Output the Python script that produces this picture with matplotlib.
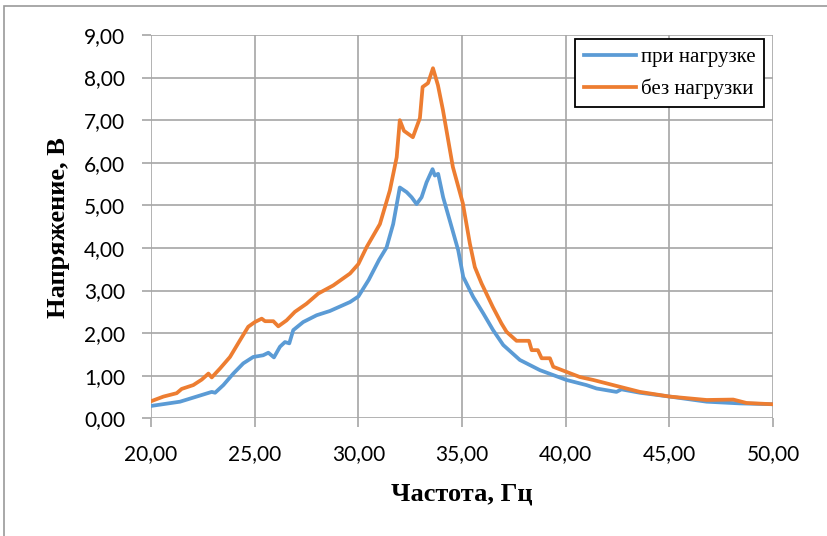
import matplotlib.pyplot as plt
from matplotlib.patches import Rectangle

# при нагрузке
f_load = [20.0, 21.4, 22.2, 22.93, 23.09, 23.49, 23.97, 24.45, 24.93, 25.41, 25.66,
          25.93, 26.22, 26.46, 26.67, 26.86, 27.34, 27.99, 28.63, 29.6, 30.0, 30.5,
          31.0, 31.36, 31.68, 32.0, 32.33, 32.57, 32.81, 33.05, 33.29, 33.58, 33.69,
          33.85, 34.09, 34.5, 34.82, 35.06, 35.54, 36.03, 36.5, 36.99, 37.79, 38.76,
          40.04, 41.0, 41.49, 42.45, 42.69, 43.58, 45.02, 46.8, 48.4, 50.0]
u_load = [0.29, 0.39, 0.51, 0.62, 0.60, 0.78, 1.05, 1.29, 1.44, 1.48, 1.54,
          1.43, 1.68, 1.79, 1.76, 2.07, 2.26, 2.42, 2.52, 2.73, 2.86, 3.25,
          3.72, 4.01, 4.56, 5.42, 5.31, 5.19, 5.03, 5.19, 5.54, 5.85, 5.70,
          5.74, 5.19, 4.49, 3.94, 3.32, 2.85, 2.46, 2.07, 1.72, 1.37, 1.13,
          0.90, 0.78, 0.70, 0.62, 0.68, 0.60, 0.51, 0.39, 0.35, 0.33]

# без нагрузки
f_free = [20.0, 20.6, 21.24, 21.48, 22.04, 22.45, 22.77, 22.93, 23.33, 23.81, 24.29,
          24.69, 25.01, 25.34, 25.5, 25.9, 26.14, 26.54, 26.94, 27.5, 28.07, 28.79,
          29.6, 30.0, 30.4, 31.04, 31.52, 31.85, 32.0, 32.2, 32.63, 32.97, 33.1,
          33.36, 33.6, 33.84, 34.08, 34.56, 35.04, 35.38, 35.62, 35.94, 36.49, 36.9,
          37.15, 37.63, 38.23, 38.36, 38.66, 38.84, 39.24, 39.4, 40.04, 40.68, 41.33,
          42.29, 43.58, 45.02, 46.8, 48.08, 48.72, 50.0]
u_free = [0.40, 0.51, 0.59, 0.69, 0.78, 0.91, 1.05, 0.96, 1.17, 1.44, 1.83,
          2.15, 2.26, 2.34, 2.28, 2.28, 2.16, 2.30, 2.50, 2.69, 2.93, 3.12,
          3.40, 3.62, 4.02, 4.56, 5.35, 6.13, 7.00, 6.75, 6.60, 7.05, 7.78,
          7.87, 8.22, 7.82, 7.24, 5.90, 5.05, 4.10, 3.55, 3.17, 2.61, 2.23,
          2.03, 1.82, 1.82, 1.60, 1.60, 1.41, 1.41, 1.21, 1.09, 0.97, 0.90,
          0.78, 0.62, 0.51, 0.43, 0.44, 0.36, 0.33]

x_ticks = [20, 25, 30, 35, 40, 45, 50]
y_ticks = list(range(10))

W, H = 827, 536
fig = plt.figure(figsize=(W / 100, H / 100), dpi=100)
# рамка области диаграммы
fig.patches.append(Rectangle((4 / W, -0.01), 1.0, 1 - 6 / H + 0.01,
                             transform=fig.transFigure, fill=False,
                             edgecolor='#9a9a9a', linewidth=1.2))
ax = fig.add_axes([151 / W, 1 - 418.3 / H, (773 - 151) / W, (418.3 - 35) / H])

ax.plot(f_load, u_load, color='#5B9BD5', lw=2.7, label='при нагрузке', solid_joinstyle='round')
ax.plot(f_free, u_free, color='#ED7D31', lw=2.7, label='без нагрузки', solid_joinstyle='round')

ax.set_xlim(20, 50)
ax.set_ylim(0, 9)
ax.set_xticks(x_ticks)
ax.set_yticks(y_ticks)
ax.set_xticklabels([f'{v:.2f}'.replace('.', ',') for v in x_ticks], family='Lato', fontsize=15)
ax.set_yticklabels([f'{v:.2f}'.replace('.', ',') for v in y_ticks], family='Lato', fontsize=15)
ax.grid(True, color='#a6a6a6', linewidth=1.2)
ax.set_axisbelow(True)
for s in ax.spines.values():
    s.set_visible(False)
ax.tick_params(length=6.5, width=1.2, color='#a6a6a6', pad=12)

fig.text(462 / W, 1 - 494 / H, 'Частота, Гц', family='Liberation Serif', fontweight='bold',
         fontsize=19, ha='center', va='center')
fig.text(58 / W, 1 - 228 / H, 'Напряжение, В', family='Liberation Serif', fontweight='bold',
         fontsize=19, ha='center', va='center', rotation=90)

leg = ax.legend(loc='upper right', bbox_to_anchor=((764 - 151) / 622, (418.3 - 39) / 383.3),
                borderaxespad=0, prop={'family': 'Liberation Serif', 'size': 15},
                fancybox=False, framealpha=1, edgecolor='black', handlelength=2.5,
                borderpad=0.4, labelspacing=0.55, handletextpad=0.25)
leg.get_frame().set_linewidth(1.3)

fig.savefig('out.png', dpi=100)
